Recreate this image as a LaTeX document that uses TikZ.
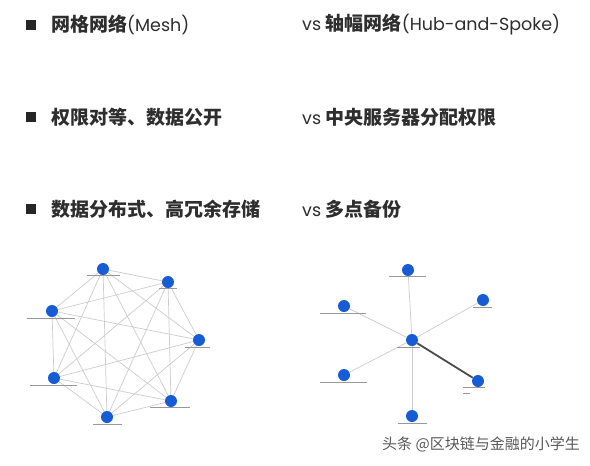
\documentclass[tikz,border=0pt]{standalone}
\usepackage{fontspec}
\setmainfont{Noto Sans CJK SC}
\newfontfamily\latinfont{Poppins}
\usetikzlibrary{positioning}
\definecolor{nodeblue}{RGB}{22,92,212}
\definecolor{edgegray}{RGB}{205,205,205}
\tikzset{
  peer/.style={circle,fill=nodeblue,inner sep=0pt,minimum size=12pt},
  link/.style={draw=edgegray,line width=0.7pt},
  heavylink/.style={draw=black!70,line width=1.8pt},
  tagline/.style={draw=black!40,line width=1pt},
  bulletbox/.style={fill=black!85,inner sep=0pt,minimum width=10pt,minimum height=10pt},
  rowtext/.style={anchor=west,inner sep=0pt,text=black!82,font=\fontsize{19}{21}\selectfont\bfseries}
}
\newcommand{\lat}[1]{{\mdseries\latinfont\fontsize{17.5}{21}\selectfont #1}}

\begin{document}
\begin{tikzpicture}[x=1pt,y=-1pt]
    \useasboundingbox[fill=white] (0,0) rectangle (590,466);
    % bullet rows
    \foreach \r/\y in {1/25,2/117,3/209} \node[bulletbox] (b\r) at (31,\y) {};
    \node[rowtext] (left1) at (51,25)  {网格网络\lat{(Mesh)}};
    \node[rowtext] (left2) at (51,117) {权限对等、数据公开};
    \node[rowtext] (left3) at (51,209) {数据分布式、高冗余存储};
    \node[rowtext] (right1) at (302,25)  {\lat{vs }轴幅网络\lat{(Hub-and-Spoke)}};
    \node[rowtext] (right2) at (302,117) {\lat{vs }中央服务器分配权限};
    \node[rowtext] (right3) at (302,209) {\lat{vs }多点备份};
    % mesh network
    \coordinate (m1) at (103,269);
    \coordinate (m2) at (168,282);
    \coordinate (m3) at (199,340);
    \coordinate (m4) at (171,401);
    \coordinate (m5) at (107,417);
    \coordinate (m6) at (54,378);
    \coordinate (m7) at (52,311);
    \foreach \i in {1,...,6} {
      \pgfmathtruncatemacro{\s}{\i+1}
      \foreach \j in {\s,...,7} \draw[link] (m\i) -- (m\j);
    }
    \foreach \i in {1,...,7} \node[peer] (mesh\i) at (m\i) {};
    \draw[tagline] (87,275) -- (120,275);
    \draw[tagline] (159,288) -- (177,288);
    \draw[tagline] (185,347) -- (210,347);
    \draw[tagline] (150,407) -- (190,407);
    \draw[tagline] (93,424) -- (122,424);
    \draw[tagline] (30,385) -- (77,385);
    \draw[tagline] (27,318) -- (75,318);
    % hub-and-spoke network
    \node[peer] (hub) at (412,340) {};
    \node[peer] (s1) at (408,270) {};
    \node[peer] (s2) at (483,300) {};
    \node[peer] (s3) at (478,381) {};
    \node[peer] (s4) at (412,416) {};
    \node[peer] (s5) at (344,375) {};
    \node[peer] (s6) at (344,306) {};
    \foreach \k in {1,2,4,5,6} \draw[link] (hub) -- (s\k);
    \draw[heavylink] (hub) -- (s3);
    \draw[tagline] (389,276) -- (426,276);
    \draw[tagline] (473,307) -- (492,307);
    \draw[tagline] (397,347) -- (420,347);
    \draw[tagline] (463,387) -- (485,387);
    \draw[tagline] (463,393) -- (470,393);
    \draw[tagline] (398,423) -- (427,423);
    \draw[tagline] (320,382) -- (367,382);
    \draw[tagline] (320,313) -- (366,313);
    % watermark
    \node[anchor=west,inner sep=0pt,text=black!65,font=\fontsize{15}{17}\selectfont] (mark) at (382,444) {头条 @区块链与金融的小学生};
\end{tikzpicture}
\end{document}
